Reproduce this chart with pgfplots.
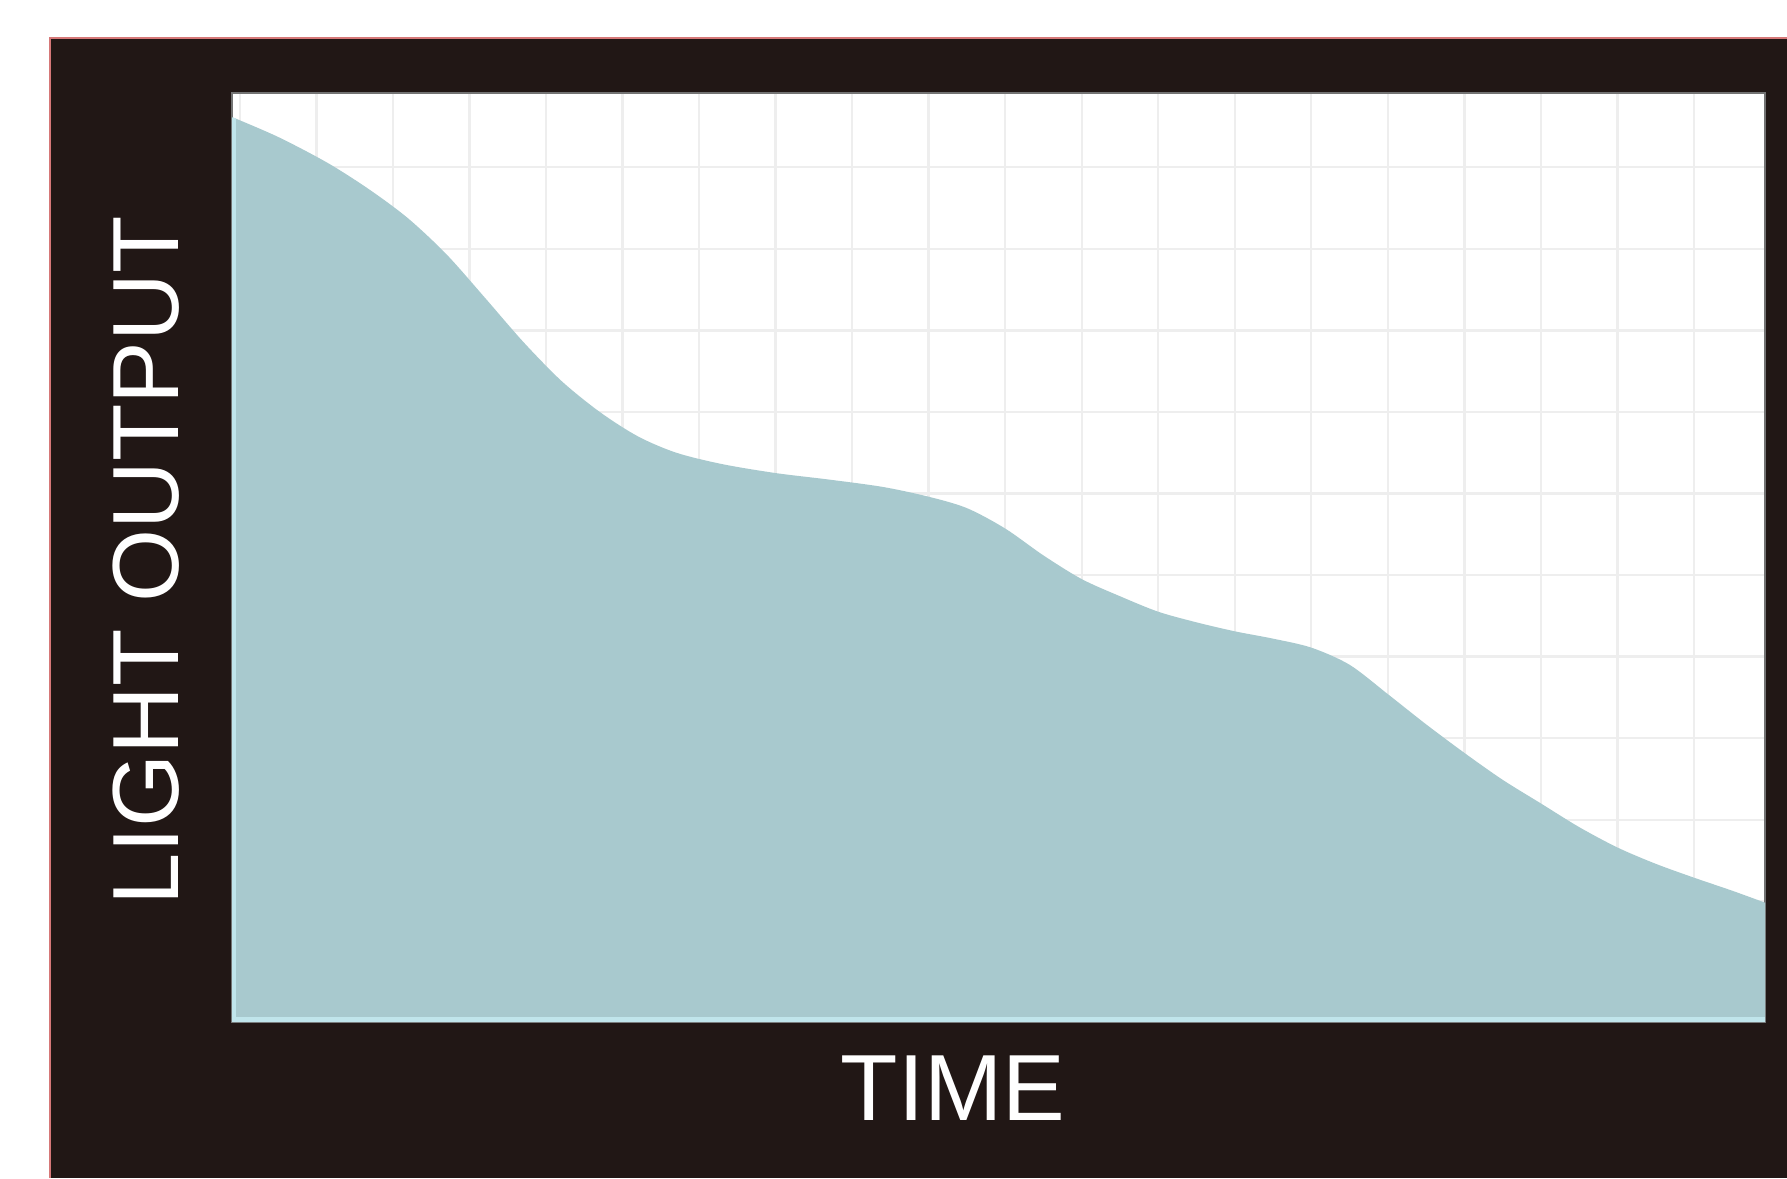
\documentclass[border=0pt]{standalone}
\usepackage{pgfplots}
\pgfplotsset{compat=1.18}
\usepackage{fontspec}
\setmainfont{Liberation Sans}
\definecolor{bgdark}{RGB}{33,23,21}
\definecolor{fillteal}{RGB}{168,201,206}
\definecolor{edgecyan}{RGB}{192,229,235}
\definecolor{gridgray}{RGB}{238,238,238}
\definecolor{borderred}{RGB}{214,120,120}

\pgfplotstableread{
x y
-0.105 11.615
0.5 11.37
1.15 11.05
1.7 10.72
2.2 10.37
2.7 9.93
3.2 9.40
3.7 8.86
4.2 8.38
4.7 8.00
5.2 7.70
5.7 7.50
6.3 7.36
7.0 7.25
7.7 7.17
8.4 7.08
9.0 6.96
9.5 6.82
10.0 6.57
10.5 6.24
11.0 5.95
11.5 5.74
12.0 5.55
12.5 5.42
13.0 5.31
13.5 5.22
14.0 5.11
14.5 4.90
15.0 4.54
15.5 4.17
16.0 3.82
16.5 3.49
17.0 3.20
17.5 2.91
18.0 2.66
18.5 2.46
19.0 2.29
19.5 2.13
19.93 1.983
}\lightdata

\begin{document}
\begin{tikzpicture}
\useasboundingbox (0,0) rectangle (446.75pt,294.5pt);
\fill[white] (0,0) rectangle (446.75pt,294.5pt);
\fill[bgdark] (12.5pt,0) rectangle (446.75pt,285pt);
\draw[borderred, line width=0.5pt] (12.5pt,0) -- (12.5pt,285pt) -- (446.75pt,285pt);
\begin{axis}[
  at={(58pt,39pt)}, anchor=south west,
  width=383.25pt, height=232.25pt, scale only axis,
  xmin=-0.105, xmax=19.93, ymin=0.52, ymax=11.91,
  xtick={0,...,19}, ytick={1,...,11},
  xticklabels={}, yticklabels={},
  major tick length=0pt,
  grid=major,
  grid style={gridgray, line width=0.6pt},
  axis background/.style={fill=white},
  axis line style={draw=black!55, line width=0.5pt},
]
\addplot[fill=fillteal, draw=none, smooth] table[x=x,y=y] {\lightdata} \closedcycle;
\addplot[edgecyan, line width=1.2pt] coordinates {(-0.09,11.6) (-0.09,0.548) (19.93,0.548)};
\end{axis}
\node[white, font=\fontsize{23.5}{28}\selectfont, rotate=90, inner sep=0pt] at (36.5pt,154.25pt) {LIGHT OUTPUT};
\node[white, font=\fontsize{23.5}{28}\selectfont, inner sep=0pt] at (238.25pt,22.5pt) {TIME};
\end{tikzpicture}
\end{document}
